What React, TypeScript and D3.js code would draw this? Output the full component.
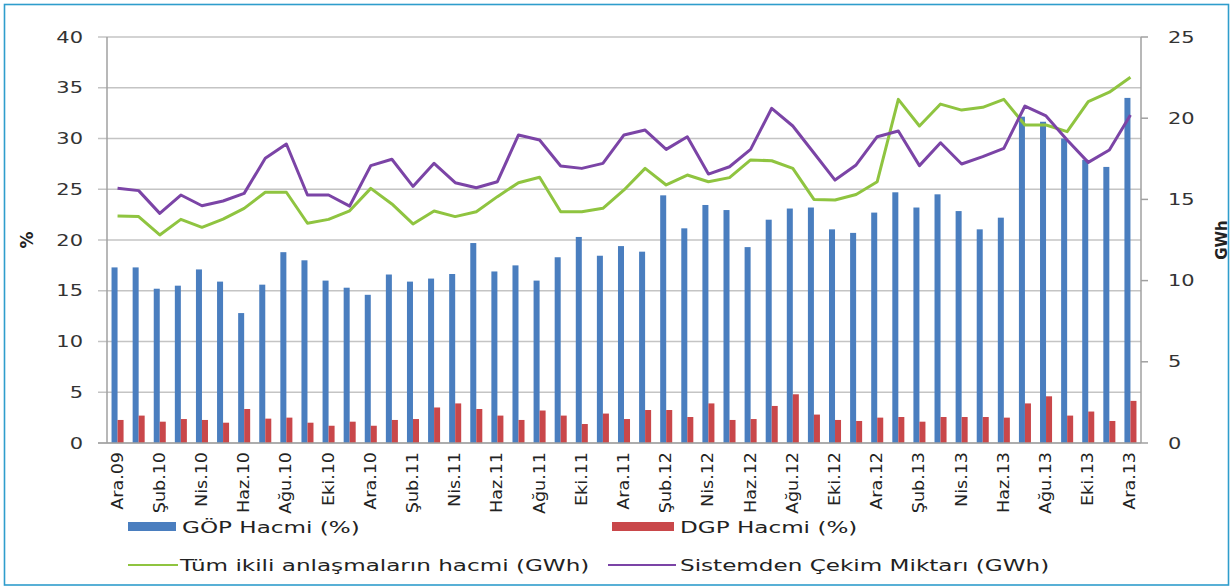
import React from "react";
import * as d3 from "d3";

const categories = [
  "Ara.09","Oca.10","Şub.10","Mar.10","Nis.10","May.10","Haz.10","Tem.10","Ağu.10","Eyl.10","Eki.10","Kas.10",
  "Ara.10","Oca.11","Şub.11","Mar.11","Nis.11","May.11","Haz.11","Tem.11","Ağu.11","Eyl.11","Eki.11","Kas.11",
  "Ara.11","Oca.12","Şub.12","Mar.12","Nis.12","May.12","Haz.12","Tem.12","Ağu.12","Eyl.12","Eki.12","Kas.12",
  "Ara.12","Oca.13","Şub.13","Mar.13","Nis.13","May.13","Haz.13","Tem.13","Ağu.13","Eyl.13","Eki.13","Kas.13",
  "Ara.13",
];

const gopHacmi = [
  17.3,17.3,15.2,15.5,17.1,15.9,12.8,15.6,18.8,18.0,
  16.0,15.3,14.6,16.6,15.9,16.2,16.65,19.7,16.9,17.5,
  16.0,18.3,20.3,18.45,19.4,18.85,24.4,21.15,23.45,22.95,
  19.3,22.0,23.1,23.2,21.05,20.7,22.7,24.7,23.2,24.5,
  22.85,21.05,22.2,32.15,31.65,30.0,27.9,27.2,34.0,
];

const dgpHacmi = [
  2.27,2.7,2.1,2.36,2.27,2.0,3.35,2.4,2.5,2.0,
  1.7,2.1,1.7,2.27,2.36,3.5,3.9,3.35,2.7,2.27,
  3.2,2.7,1.87,2.9,2.36,3.25,3.25,2.56,3.9,2.27,
  2.36,3.65,4.8,2.8,2.27,2.17,2.5,2.56,2.1,2.56,
  2.56,2.56,2.5,3.9,4.6,2.7,3.1,2.17,4.15,
];

const ikiliAnlasma = [
  13.98,13.94,12.81,13.77,13.28,13.79,14.45,15.44,15.44,13.53,
  13.77,14.3,15.68,14.72,13.49,14.29,13.94,14.24,15.17,16.03,
  16.36,14.24,14.24,14.45,15.58,16.91,15.89,16.5,16.09,16.34,
  17.43,17.38,16.91,15.0,14.96,15.3,16.09,21.16,19.52,20.87,
  20.5,20.67,21.16,19.58,19.58,19.17,21.02,21.6,22.52,
];

const sistemdenCekim = [
  15.68,15.54,14.14,15.27,14.61,14.9,15.37,17.53,18.41,15.27,
  15.27,14.59,17.08,17.47,15.8,17.22,16.03,15.72,16.09,18.97,
  18.66,17.06,16.91,17.22,18.97,19.27,18.08,18.86,16.56,17.01,
  18.08,20.61,19.52,17.86,16.19,17.12,18.86,19.21,17.08,18.49,
  17.18,17.63,18.14,20.75,20.14,18.66,17.28,18.04,20.2,
];

const leftTicks = [0, 5, 10, 15, 20, 25, 30, 35, 40];
const rightTicks = [0, 5, 10, 15, 20, 25];

const seriesNames = [
  "GÖP Hacmi (%)",
  "DGP Hacmi (%)",
  "Tüm ikili anlaşmaların hacmi (GWh)",
  "Sistemden Çekim Miktarı (GWh)",
];

const BLUE = "#4a7ebf";
const RED = "#c9474a";
const GREEN = "#8fc440";
const PURPLE = "#7b44a6";

export default function App() {
  const W = 1231, H = 587;
  const left = 107, right = 1141, top = 37, bottom = 443;

  const x = d3.scaleBand<string>().domain(categories).range([left, right]).paddingInner(0).paddingOuter(0);
  const yL = d3.scaleLinear().domain([0, 40]).range([bottom, top]);
  const yR = d3.scaleLinear().domain([0, 25]).range([bottom, top]);
  const bw = x.bandwidth() * 0.285;
  const cx = (c: string) => (x(c) as number) + x.bandwidth() / 2;

  const lineGen = (vals: number[]) =>
    d3.line<number>().x((_, i) => cx(categories[i])).y((v) => yR(v))(vals) as string;

  const tickFont = "'DejaVu Sans', Verdana, sans-serif";
  const legendTx = (xx: number, yy: number) => `translate(${xx},${yy}) scale(1.4,1)`;

  return (
    <svg width={W} height={H} style={{ position: "absolute", left: 0, top: 0, background: "#fff" }}>
      <rect x={0} y={0} width={W} height={H} fill="#fff" />
      <rect x={4.5} y={4.5} width={1224} height={580.5} fill="none" stroke="#2f9dcc" strokeWidth={1.6} />

      {/* gridlines */}
      {leftTicks.map((t) => (
        <line key={"g" + t} x1={98} x2={right} y1={yL(t)} y2={yL(t)} stroke="#c4c4c4" strokeWidth={1.5} />
      ))}

      {/* bars */}
      {categories.map((c, i) => (
        <g key={"b" + c}>
          <rect x={cx(c) - bw} y={yL(gopHacmi[i])} width={bw} height={bottom - yL(gopHacmi[i])} fill={BLUE} />
          <rect x={cx(c)} y={yL(dgpHacmi[i])} width={bw} height={bottom - yL(dgpHacmi[i])} fill={RED} />
        </g>
      ))}

      {/* lines */}
      <path d={lineGen(ikiliAnlasma)} fill="none" stroke={GREEN} strokeWidth={3} strokeLinejoin="round" />
      <path d={lineGen(sistemdenCekim)} fill="none" stroke={PURPLE} strokeWidth={3} strokeLinejoin="round" />

      {/* axes */}
      <line x1={left} x2={left} y1={top} y2={bottom} stroke="#a0a0a0" strokeWidth={1.5} />
      <line x1={right} x2={right} y1={top} y2={bottom} stroke="#a0a0a0" strokeWidth={1.5} />
      <line x1={98} x2={right} y1={bottom} y2={bottom} stroke="#a0a0a0" strokeWidth={1.5} />
      {rightTicks.map((t) => (
        <line key={"rt" + t} x1={right} x2={right + 7} y1={yR(t)} y2={yR(t)} stroke="#a0a0a0" strokeWidth={1.5} />
      ))}

      {/* left tick labels */}
      {leftTicks.map((t) => (
        <text key={"lt" + t} transform={`translate(83,${yL(t) + 5.5}) scale(1.4,1)`} textAnchor="end"
          fontFamily={tickFont} fontSize={15} fill="#333">{t}</text>
      ))}
      {/* right tick labels */}
      {rightTicks.map((t) => (
        <text key={"rl" + t} transform={`translate(1168,${yR(t) + 5.5}) scale(1.4,1)`} textAnchor="start"
          fontFamily={tickFont} fontSize={15} fill="#333">{t}</text>
      ))}

      {/* x labels */}
      {categories.map((c, i) =>
        i % 2 === 0 ? (
          <text key={"xl" + c} transform={`translate(${cx(c) + 5},452) rotate(-90) scale(1.3,1)`} textAnchor="end"
            fontFamily="'Liberation Sans Narrow', 'DejaVu Sans Condensed', sans-serif" fontSize={15} fill="#222">{c}</text>
        ) : null
      )}

      {/* axis titles */}
      <text transform="translate(33,240) rotate(-90)" textAnchor="middle" fontFamily={tickFont} fontWeight="bold" fontSize={17} fill="#222">%</text>
      <text transform="translate(1227,240) rotate(-90)" textAnchor="middle" fontFamily={tickFont} fontWeight="bold" fontSize={15} fill="#222">GWh</text>

      {/* legend */}
      <rect x={128} y={522} width={48} height={9} fill={BLUE} />
      <text transform={legendTx(182, 533)} fontFamily={tickFont} fontSize={16.5} fill="#222">{seriesNames[0]}</text>
      <rect x={612} y={522} width={62} height={9} fill={RED} />
      <text transform={legendTx(680, 533)} fontFamily={tickFont} fontSize={16.5} fill="#222">{seriesNames[1]}</text>
      <line x1={128} x2={178} y1={565} y2={565} stroke={GREEN} strokeWidth={2} />
      <text transform={legendTx(180, 571)} fontFamily={tickFont} fontSize={16.5} fill="#222">{seriesNames[2]}</text>
      <line x1={608} x2={676} y1={565} y2={565} stroke={PURPLE} strokeWidth={2} />
      <text transform={legendTx(680, 571)} fontFamily={tickFont} fontSize={16.5} fill="#222">{seriesNames[3]}</text>
    </svg>
  );
}
